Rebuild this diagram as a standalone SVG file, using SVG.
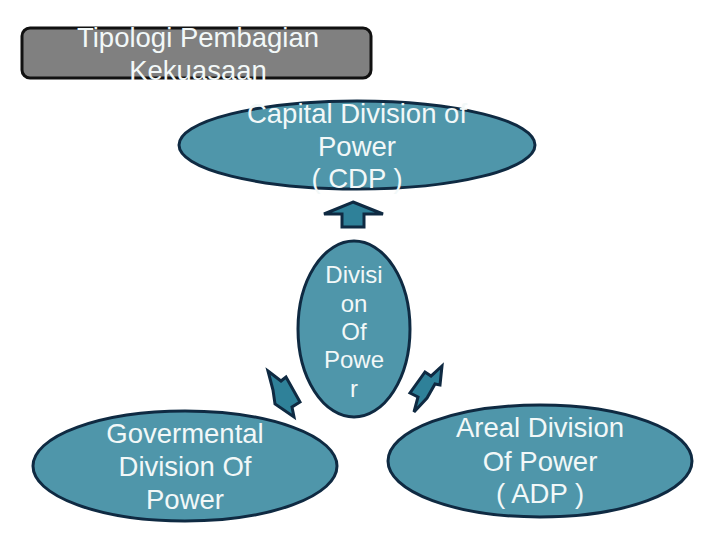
<svg xmlns="http://www.w3.org/2000/svg" width="720" height="540" viewBox="0 0 720 540">
<style>
.node{fill:#4f96aa;stroke:#0f2a42;stroke-width:3}
.arr{fill:#2f8199;stroke:#0f2a42;stroke-width:3;stroke-linejoin:miter}
.t{font-family:"Liberation Sans",Arial,sans-serif;fill:#f2f8f8;text-anchor:middle}
</style>
<rect width="720" height="540" fill="#ffffff"/>
<g id="title">
<rect x="22" y="28" width="349" height="50" rx="8" fill="#808080" stroke="#111111" stroke-width="3"/>
<text class="t" font-size="27.5" fill="#ffffff"><tspan x="198" y="47">Tipologi Pembagian</tspan><tspan x="198" y="80">Kekuasaan</tspan></text>
</g>
<g id="cdp">
<ellipse class="node" cx="357" cy="145" rx="178" ry="44"/>
<text class="t" font-size="27.5"><tspan x="357" y="123">Capital Division of</tspan><tspan x="357" y="156">Power</tspan><tspan x="357" y="188">( CDP )</tspan></text>
</g>
<g id="connectors">
<polygon class="arr" points="353,202 383,214 364,214 364,227 342,227 342,214 324,214"/>
<polygon class="arr" points="268,371 281,381 286,377 300,402 292,407 294,417 275,404 273,390"/>
<polygon class="arr" points="442,366 440,385 435,384 427,398 414,412 418,397 410,393 425,372 431,376"/>
</g>
<g id="division">
<ellipse class="node" cx="354" cy="329" rx="56" ry="88"/>
<text class="t" font-size="24"><tspan x="354" y="283">Divisi</tspan><tspan x="354" y="312">on</tspan><tspan x="354" y="340">Of</tspan><tspan x="354" y="368">Powe</tspan><tspan x="354" y="397">r</tspan></text>
</g>
<g id="gdp">
<ellipse class="node" cx="185" cy="466" rx="152" ry="55"/>
<text class="t" font-size="27.5"><tspan x="185" y="443">Govermental</tspan><tspan x="185" y="476">Division Of</tspan><tspan x="185" y="509">Power</tspan></text>
</g>
<g id="adp">
<ellipse class="node" cx="540" cy="461" rx="152" ry="56"/>
<text class="t" font-size="27.5"><tspan x="540" y="437">Areal Division</tspan><tspan x="540" y="471">Of Power</tspan><tspan x="540" y="503">( ADP )</tspan></text>
</g>
</svg>
